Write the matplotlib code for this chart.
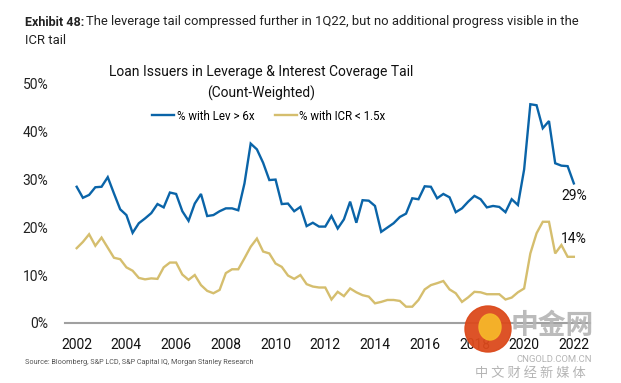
import numpy as np
import matplotlib.pyplot as plt
from matplotlib.patches import Ellipse

plt.rcParams['font.family'] = ['Roboto', 'DejaVu Sans']

# quarterly, 2002Q1 .. 2022Q1
start_year = 2002
lev = [28.4, 26.1, 26.7, 28.3, 28.4, 30.4, 27.0, 23.7, 22.5, 18.8,
       20.8, 21.8, 22.9, 24.8, 24.1, 27.2, 26.9, 23.3, 21.3, 24.9,
       26.9, 22.3, 22.5, 23.3, 23.9, 23.9, 23.5, 29.1, 37.4, 36.2,
       33.4, 29.8, 29.9, 24.8, 24.9, 23.3, 24.2, 20.2, 20.9, 20.1,
       20.1, 22.3, 19.7, 21.6, 25.3, 20.9, 25.6, 25.5, 24.4, 19.0,
       19.9, 20.8, 22.1, 22.8, 26.0, 25.8, 28.5, 28.4, 26.0, 26.9,
       26.2, 23.1, 23.9, 25.3, 26.5, 25.8, 24.1, 24.4, 24.2, 23.1,
       25.8, 24.6, 32.0, 45.6, 45.4, 40.6, 42.1, 33.3, 32.8, 32.7,
       29.1]
icr = [15.6, 16.9, 18.5, 16.1, 17.8, 15.7, 13.6, 13.3, 11.6, 10.9,
       9.4, 9.1, 9.3, 9.2, 11.6, 12.6, 12.6, 10.1, 9.0, 10.0,
       7.9, 6.7, 6.2, 6.9, 10.4, 11.2, 11.2, 13.5, 15.9, 17.6,
       14.9, 14.5, 12.4, 11.7, 9.9, 9.2, 10.0, 8.1, 7.6, 7.4,
       7.4, 4.9, 6.5, 5.6, 7.2, 6.4, 5.8, 5.5, 4.1, 4.4,
       4.8, 4.8, 4.6, 3.4, 3.4, 4.8, 7.0, 7.9, 8.3, 8.75,
       7.0, 6.2, 4.4, 5.35, 6.5, 6.4, 6.0, 6.0, 6.0, 4.9,
       5.3, 6.4, 7.2, 14.5, 18.7, 21.1, 21.1, 14.5, 16.25, 13.8,
       13.8]
series_names = ['% with Lev > 6x', '% with ICR < 1.5x']
end_labels = ['29%', '14%']
year_ticks = list(range(2002, 2023, 2))
pct_ticks = [0, 10, 20, 30, 40, 50]

blue = '#0a64a8'
gold = '#d5be6e'

t = start_year + np.arange(len(lev)) / 4.0

fig = plt.figure(figsize=(6.21, 3.83), dpi=100)
ax = fig.add_axes([65 / 621, 1 - 323 / 383, 525 / 621, 248 / 383])

l1, = ax.plot(t, lev, color=blue, lw=1.7, label=series_names[0], solid_joinstyle='miter')
l2, = ax.plot(t, icr, color=gold, lw=1.7, label=series_names[1], solid_joinstyle='miter')

ax.set_xlim(2001.53, 2022.65)
ax.set_ylim(0, 51.7)
ax.set_xticks(year_ticks)
ax.set_xticklabels([str(y) for y in year_ticks], fontsize=10, color='#111111')
ax.set_yticks(pct_ticks)
ax.set_yticklabels([f'{p}%' for p in pct_ticks], fontsize=10, color='#222222')
ax.tick_params(axis='both', length=0)
ax.tick_params(axis='x', pad=11)
ax.tick_params(axis='y', pad=12)
for s in ['top', 'right', 'left']:
    ax.spines[s].set_visible(False)
ax.spines['bottom'].set_color('#a0a0a0')
ax.spines['bottom'].set_linewidth(1.5)

ax.annotate(end_labels[0], (t[-1], lev[-1]), xytext=(0, -9), textcoords='offset points',
            ha='center', va='center', fontsize=10, color='#111111')
ax.annotate(end_labels[1], (t[-1], icr[-1]), xytext=(0, 12.5), textcoords='offset points',
            ha='center', va='center', fontsize=10, color='#111111')

fig.text(261 / 621, 1 - 72 / 383, 'Loan Issuers in Leverage & Interest Coverage Tail',
         ha='center', va='center', fontsize=10, color='#111111')
fig.text(261 / 621, 1 - 93 / 383, '(Count-Weighted)',
         ha='center', va='center', fontsize=10, color='#111111')
fig.legend(handles=[l1, l2], loc='center', bbox_to_anchor=(269 / 621, 1 - 116 / 383),
           ncol=2, frameon=False, fontsize=8.3, handlelength=1.9, handletextpad=0.2,
           columnspacing=1.8, borderaxespad=0)

fig.text(25 / 621, 1 - 22 / 383, 'Exhibit 48:', fontsize=9, fontweight='bold',
         color='#222222', va='center')
fig.text(86 / 621, 1 - 22 / 383,
         'The leverage tail compressed further in 1Q22, but no additional progress visible in the',
         fontsize=9.35, color='#222222', va='center')
fig.text(25 / 621, 1 - 40 / 383, 'ICR tail', fontsize=9.35, color='#222222', va='center')

fig.text(25 / 621, 1 - 362 / 383,
         'Source: Bloomberg, S&P LCD, S&P Capital IQ, Morgan Stanley Research',
         fontsize=5.2, color='#555555', va='center')

# watermark (cngold)
cjk = ['Noto Sans CJK SC', 'DejaVu Sans']
fig.add_artist(Ellipse((488 / 621, 1 - 329 / 383), 46 / 621, 46 / 383,
                       transform=fig.transFigure, color='#dc4a1c', zorder=5, alpha=0.95))
fig.add_artist(Ellipse((490 / 621, 1 - 327 / 383), 22 / 621, 26 / 383,
                       transform=fig.transFigure, color='#f6b62a', zorder=6, alpha=0.95))
fig.text(552 / 621, 1 - 326 / 383, '中金网', family=cjk, fontsize=20, fontweight='bold',
         color='#b4b4b4', ha='center', va='center', zorder=6, alpha=0.9)
fig.text(554 / 621, 1 - 359 / 383, 'CNGOLD.COM.CN', fontsize=6.8, color='#b4b4b4',
         ha='center', va='center', zorder=6)
fig.text(530 / 621, 1 - 373 / 383, '中 文 财 经 新 媒 体', family=cjk, fontsize=9.5,
         color='#b4b4b4', ha='center', va='center', zorder=6)

fig.savefig('out.png', dpi=100)
